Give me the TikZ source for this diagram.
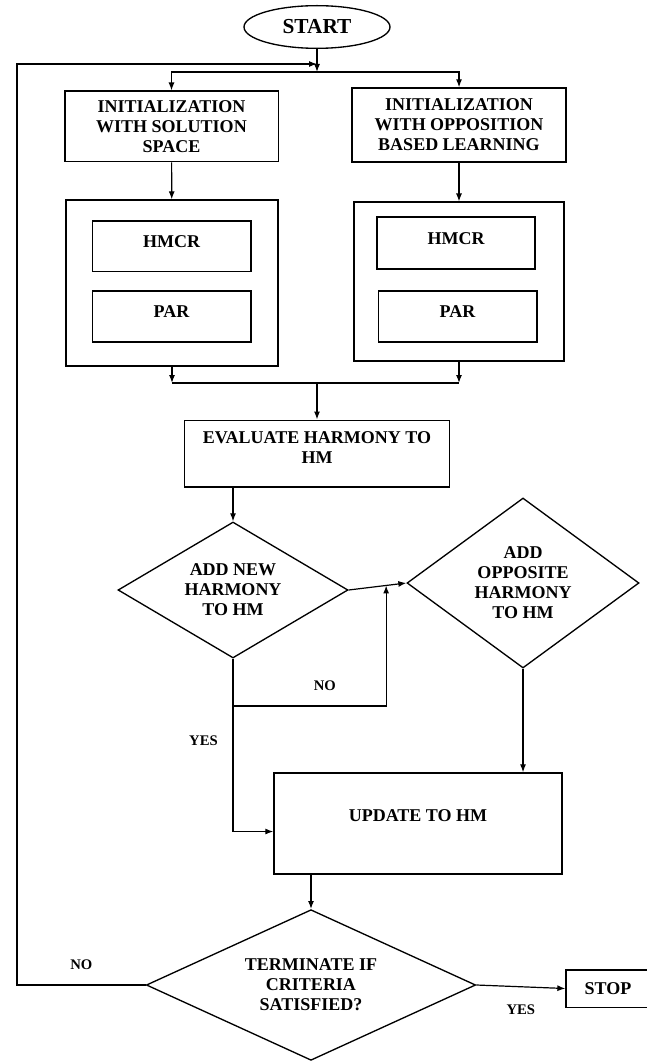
\documentclass[tikz,border=0pt]{standalone}
\usepackage{fontspec}
\setmainfont{Liberation Serif}
\usepackage{tikz}
\usetikzlibrary{shapes.geometric, arrows.meta, positioning, calc}
\tikzset{
  stepbox/.style={rectangle, draw, line width=1pt, align=center,
    font=\fontsize{13.5}{15}\selectfont\bfseries, inner sep=2pt},
  decision/.style={diamond, draw, line width=1pt, align=center,
    font=\fontsize{13.5}{15}\selectfont\bfseries, inner sep=0pt},
  terminal/.style={ellipse, draw, line width=1pt,
    font=\fontsize{16}{18}\selectfont\bfseries, inner sep=1pt},
  arrow/.style={-{Latex[length=6pt,width=4.5pt]}, line width=0.9pt},
  line/.style={line width=0.9pt},
  tag/.style={font=\fontsize{11}{12}\selectfont\bfseries, inner sep=1pt}
}

\begin{document}
\begin{tikzpicture}[x=0.75pt, y=-0.75pt]
  \useasboundingbox (0,0) rectangle (646,1062);

  % start and the two initialisations
  \node[terminal, minimum width=109.5pt, minimum height=32pt] (start) at (317,27) {START};
  \node[stepbox, minimum width=160pt, minimum height=53pt] (initA) at (171.5,126.5)
    {INITIALIZATION\\WITH SOLUTION\\SPACE};
  \node[stepbox, minimum width=160.5pt, minimum height=55.5pt] (initB) at (459,125)
    {INITIALIZATION\\WITH OPPOSITION\\BASED LEARNING};

  % improvisation blocks
  \node[stepbox, minimum width=159pt, minimum height=124.5pt] (impA) at (172,283) {};
  \node[stepbox, minimum width=119pt, minimum height=38pt, text depth=7pt] (hmcrA) at (171.5,246.5) {HMCR};
  \node[stepbox, minimum width=119pt, minimum height=38pt, text depth=7pt] (parA) at (171.5,316.5) {PAR};
  \node[stepbox, minimum width=157.5pt, minimum height=119pt] (impB) at (459,281.5) {};
  \node[stepbox, minimum width=118.5pt, minimum height=39pt, text depth=7pt] (hmcrB) at (456,243) {HMCR};
  \node[stepbox, minimum width=119pt, minimum height=38pt, text depth=7pt] (parB) at (457.5,316.5) {PAR};

  \node[stepbox, minimum width=199pt, minimum height=50pt, text depth=9pt] (eval) at (317,453.5)
    {EVALUATE HARMONY TO\\HM};

  % memory update decisions
  \node[decision, aspect=1.69, minimum width=172.5pt, minimum height=102pt] (addnew) at (233,590)
    {ADD NEW\\HARMONY\\TO HM};
  \node[decision, aspect=1.36, minimum width=174pt, minimum height=127.5pt] (addopp) at (523,583)
    {ADD\\OPPOSITE\\HARMONY\\TO HM};
  \node[stepbox, minimum width=216pt, minimum height=75.75pt, text depth=12pt] (update) at (418,823.5)
    {UPDATE TO HM};
  \node[decision, aspect=2.19, minimum width=247pt, minimum height=113pt] (term) at (311,985)
    {TERMINATE IF\\CRITERIA\\SATISFIED?};
  \node[stepbox, minimum width=63pt, minimum height=28pt] (stop) at (608,988.5) {STOP};

  \coordinate (split) at (317,72);
  \coordinate (loopin) at (317,64);
  \coordinate (merge) at (317,383);
  \coordinate (fork) at (233,706);
  \coordinate (rail) at (17,64);
  \coordinate (nojoin) at ($(addnew.east)!0.65!(addopp.west)$);

  \draw[arrow] (start) -- (split);
  \draw[arrow] (split) -| (initA.north);
  \draw[arrow] (split) -| (initB.north);
  \draw[arrow] (initA) -- (impA);
  \draw[arrow] (initB) -- (impB);

  \draw[arrow] (impA.south) -- (impA.south |- merge);
  \draw[arrow] (impB.south) -- (impB.south |- merge);
  \draw[line] (impA.south |- merge) -- (impB.south |- merge);
  \draw[arrow] (merge) -- (eval);
  \draw[arrow] (eval.south -| addnew) -- (addnew.north);

  \draw[arrow] (addnew.east) -- (addopp.west);
  \draw[line] (addnew.south) -- (fork);
  \draw[arrow] (fork) -| node[tag, pos=0.3, above=10pt] {NO} (nojoin);
  \draw[arrow] (fork) |- node[tag, pos=0.14, left=10pt] {YES} ([yshift=-6pt]update.west);
  \draw[arrow] (addopp.south) -- (addopp.south |- update.north);

  \draw[arrow] (update.south -| term.north) -- (term.north);
  \draw[arrow] (term.east) -- node[tag, below=12pt] {YES} (stop.west);
  \draw[arrow] (term.west) -- node[tag, above=10pt] {NO} (term.west -| rail)
    -- (rail) -- (loopin);
\end{tikzpicture}
\end{document}
